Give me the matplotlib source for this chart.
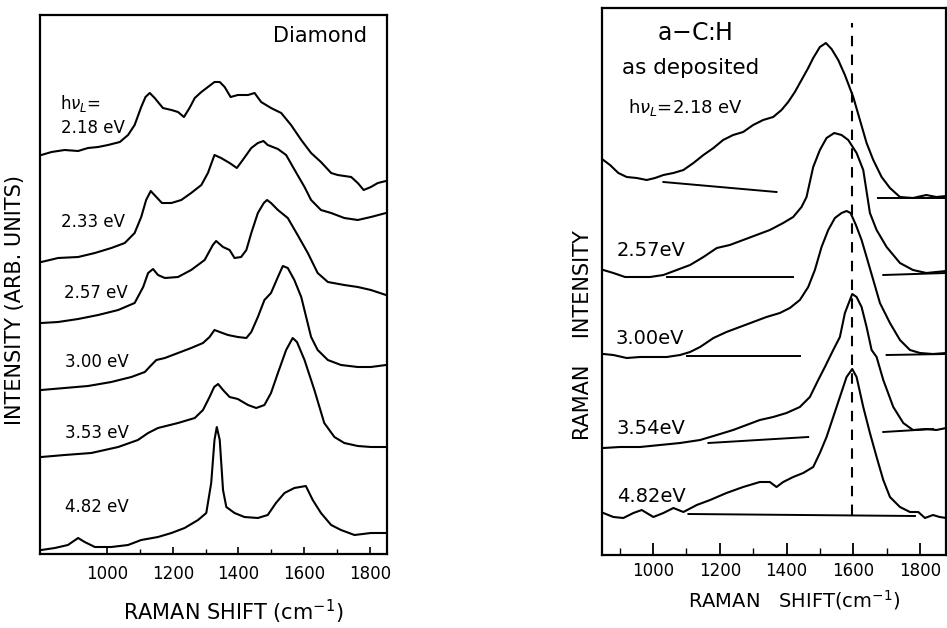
import matplotlib
matplotlib.use("Agg")
import matplotlib.pyplot as plt
from matplotlib.ticker import FixedLocator

# intensities (arb. units, offset traces)

# ---- left panel: diamond ----
d218_x = [800, 831, 871, 912, 942, 973, 1003, 1039, 1064, 1084, 1104, 1117, 1130, 1145, 1170, 1196, 1216, 1234, 1251, 1267, 1287, 1307, 1327, 1343, 1358, 1376, 1398, 1429, 1449, 1469, 1499, 1530, 1560, 1591, 1621, 1651, 1682, 1702, 1743, 1763, 1781, 1803, 1824, 1849]
d218_y = [399, 402, 404, 403, 406, 407, 409, 412, 419, 429, 447, 457, 461, 456, 446, 444, 442, 437, 446, 456, 462, 467, 472, 472, 467, 457, 459, 459, 461, 452, 446, 441, 429, 414, 401, 392, 381, 379, 377, 371, 364, 367, 371, 373]

d233_x = [800, 851, 912, 963, 1013, 1054, 1084, 1104, 1119, 1133, 1150, 1167, 1196, 1226, 1256, 1287, 1307, 1327, 1347, 1373, 1395, 1413, 1439, 1459, 1476, 1489, 1520, 1545, 1571, 1601, 1621, 1651, 1682, 1722, 1763, 1803, 1849]
d233_y = [292, 296, 297, 301, 306, 311, 321, 337, 354, 363, 357, 351, 351, 354, 361, 369, 381, 399, 396, 391, 386, 394, 406, 411, 413, 409, 405, 399, 384, 367, 354, 344, 341, 336, 334, 337, 341]

d257_x = [800, 851, 912, 973, 1034, 1084, 1110, 1125, 1140, 1155, 1176, 1216, 1256, 1297, 1322, 1332, 1353, 1373, 1388, 1408, 1424, 1439, 1459, 1477, 1487, 1499, 1520, 1550, 1580, 1611, 1641, 1672, 1722, 1763, 1803, 1849]
d257_y = [231, 232, 235, 239, 244, 251, 267, 281, 285, 279, 276, 277, 284, 294, 309, 313, 307, 304, 296, 297, 304, 321, 341, 351, 354, 351, 344, 336, 319, 301, 281, 272, 269, 267, 264, 259]

d300_x = [800, 871, 942, 1013, 1074, 1115, 1135, 1150, 1176, 1216, 1256, 1292, 1312, 1327, 1343, 1368, 1398, 1424, 1439, 1459, 1479, 1499, 1520, 1535, 1550, 1570, 1591, 1621, 1641, 1672, 1712, 1763, 1803, 1849]
d300_y = [164, 166, 168, 172, 177, 182, 189, 194, 196, 201, 206, 211, 217, 224, 222, 219, 217, 216, 222, 237, 254, 261, 277, 288, 286, 274, 257, 217, 204, 194, 189, 187, 187, 189]

d353_x = [800, 871, 952, 1034, 1094, 1125, 1155, 1216, 1267, 1292, 1312, 1326, 1338, 1353, 1373, 1398, 1429, 1454, 1479, 1499, 1520, 1545, 1565, 1578, 1601, 1631, 1661, 1692, 1722, 1763, 1803, 1849]
d353_y = [97, 99, 101, 107, 114, 121, 126, 131, 136, 144, 157, 167, 170, 164, 157, 155, 149, 146, 149, 161, 181, 204, 216, 212, 194, 164, 131, 117, 111, 108, 107, 107]

d482_x = [800, 841, 881, 912, 932, 963, 1013, 1064, 1104, 1155, 1196, 1236, 1277, 1302, 1317, 1327, 1334, 1343, 1353, 1363, 1388, 1418, 1459, 1489, 1514, 1540, 1570, 1605, 1626, 1651, 1682, 1712, 1753, 1803, 1849]
d482_y = [4, 6, 9, 16, 12, 7, 7, 9, 14, 17, 21, 26, 34, 41, 71, 114, 127, 114, 64, 47, 41, 37, 36, 39, 51, 61, 66, 68, 54, 41, 29, 24, 19, 21, 21]

# ---- right panel: a-C:H as deposited ----
a218_x = [851, 871, 896, 921, 951, 981, 1006, 1031, 1061, 1091, 1121, 1151, 1181, 1210, 1240, 1270, 1300, 1330, 1360, 1385, 1405, 1425, 1445, 1465, 1480, 1500, 1518, 1535, 1555, 1575, 1600, 1620, 1640, 1660, 1685, 1710, 1740, 1779, 1819, 1849, 1879]
a218_y = [395, 390, 382, 378, 377, 375, 377, 380, 382, 385, 392, 400, 407, 415, 420, 423, 430, 435, 438, 445, 453, 463, 475, 487, 497, 508, 512, 506, 495, 480, 458, 435, 412, 395, 378, 367, 358, 357, 360, 358, 359]

a257_x = [851, 881, 916, 951, 991, 1031, 1071, 1111, 1151, 1191, 1230, 1270, 1310, 1350, 1390, 1420, 1445, 1460, 1480, 1500, 1520, 1543, 1565, 1585, 1610, 1630, 1650, 1670, 1700, 1740, 1779, 1819, 1879]
a257_y = [285, 282, 278, 278, 278, 280, 285, 290, 298, 307, 310, 315, 320, 325, 332, 338, 348, 358, 388, 405, 417, 422, 420, 415, 402, 385, 342, 325, 308, 292, 285, 282, 284]

a300_x = [851, 881, 921, 961, 1001, 1041, 1081, 1111, 1141, 1181, 1220, 1260, 1300, 1340, 1380, 1410, 1440, 1465, 1485, 1505, 1525, 1545, 1565, 1580, 1592, 1608, 1625, 1640, 1660, 1680, 1710, 1740, 1770, 1800, 1839, 1879]
a300_y = [201, 200, 197, 198, 198, 198, 200, 203, 208, 217, 223, 228, 233, 238, 242, 247, 255, 268, 285, 308, 325, 337, 342, 344, 342, 330, 315, 298, 275, 252, 232, 215, 205, 202, 201, 202]

a354_x = [851, 901, 961, 1021, 1081, 1141, 1191, 1240, 1280, 1320, 1360, 1400, 1440, 1470, 1495, 1515, 1540, 1560, 1575, 1597, 1610, 1625, 1640, 1655, 1670, 1690, 1720, 1750, 1779, 1819, 1849, 1879]
a354_y = [107, 108, 108, 110, 112, 115, 120, 125, 130, 135, 138, 142, 148, 158, 175, 188, 205, 218, 242, 261, 258, 248, 228, 205, 198, 175, 148, 132, 125, 126, 125, 127]

a482_x = [851, 881, 911, 941, 966, 1001, 1031, 1061, 1091, 1131, 1171, 1220, 1270, 1320, 1350, 1370, 1390, 1420, 1450, 1480, 1500, 1520, 1540, 1560, 1580, 1597, 1610, 1630, 1650, 1670, 1690, 1710, 1740, 1770, 1795, 1815, 1839, 1859, 1879]
a482_y = [42, 38, 37, 42, 45, 38, 42, 47, 43, 50, 55, 62, 68, 73, 73, 68, 73, 78, 82, 88, 102, 118, 138, 158, 178, 186, 178, 148, 122, 98, 75, 58, 48, 43, 43, 37, 40, 38, 37]

# straight background lines drawn in the figure: (x0, x1, y0, y1)
a_baselines = [
    (1031, 1370, 373, 363), (1675, 1879, 357, 357),
    (1041, 1420, 278, 278), (1690, 1879, 280, 282),
    (1101, 1440, 199, 199), (1700, 1879, 200, 201),
    (1166, 1465, 112, 118), (1690, 1839, 123, 126),
    (1106, 1785, 41, 39),
]
g_band = 1597  # dashed marker position

left_labels = [("2.33 eV", 861, 332), ("2.57 eV", 869, 261), ("3.00 eV", 871, 192),
               ("3.53 eV", 871, 121), ("4.82 eV", 871, 47)]
right_labels = [("2.57eV", 891, 304), ("3.00eV", 886, 216), ("3.54eV", 891, 127), ("4.82eV", 891, 58)]
tick_labels = [1000, 1200, 1400, 1600, 1800]

lw = 1.5
fig = plt.figure(figsize=(9.47, 6.28), dpi=100)

# left panel
ax1 = fig.add_axes([40 / 947, 74 / 628, 347 / 947, 539 / 628])
for xs, ys in [(d218_x, d218_y), (d233_x, d233_y), (d257_x, d257_y),
               (d300_x, d300_y), (d353_x, d353_y), (d482_x, d482_y)]:
    ax1.plot(xs, ys, color="black", lw=lw)
ax1.set_xlim(796, 1852)
ax1.set_ylim(0, 539)
ax1.text(1790, 518, "Diamond", ha="right", va="center", fontsize=15)
ax1.text(856, 451, r"h$\nu_L$=", ha="left", va="center", fontsize=12)
ax1.text(859, 426, "2.18 eV", ha="left", va="center", fontsize=12)
for txt, x, y in left_labels:
    ax1.text(x, y, txt, ha="left", va="center", fontsize=12)
ax1.xaxis.set_major_locator(FixedLocator(tick_labels))
ax1.xaxis.set_minor_locator(FixedLocator([1100, 1300, 1500, 1700]))
ax1.tick_params(axis="x", which="major", direction="in", length=5, width=1.2,
                labelsize=12, pad=8)
ax1.tick_params(axis="x", which="minor", direction="in", length=3.5, width=1.0)

# right panel
ax2 = fig.add_axes([602 / 947, 73 / 628, 344 / 947, 547 / 628])
for xs, ys in [(a218_x, a218_y), (a257_x, a257_y), (a300_x, a300_y),
               (a354_x, a354_y), (a482_x, a482_y)]:
    ax2.plot(xs, ys, color="black", lw=lw)
for x0, x1, y0, y1 in a_baselines:
    ax2.plot([x0, x1], [y0, y1], color="black", lw=1.4)
ax2.plot([g_band, g_band], [40, 532], color="black", lw=1.5, ls=(0, (5, 4)))
ax2.set_xlim(847, 1878)
ax2.set_ylim(0, 547)
ax2.text(1123, 522, "a$-$C:H", ha="center", va="center", fontsize=17)
ax2.text(906, 487, "as deposited", ha="left", va="center", fontsize=15.5)
ax2.text(925, 448, r"h$\nu_L$=2.18 eV", ha="left", va="center", fontsize=13)
for txt, x, y in right_labels:
    ax2.text(x, y, txt, ha="left", va="center", fontsize=14)
ax2.xaxis.set_major_locator(FixedLocator(tick_labels))
ax2.xaxis.set_minor_locator(FixedLocator([900, 1100, 1300, 1500, 1700]))
ax2.tick_params(axis="x", which="major", direction="in", length=9, width=1.3,
                labelsize=12, pad=5)
ax2.tick_params(axis="x", which="minor", direction="in", length=5, width=1.0)

for ax in (ax1, ax2):
    ax.set_yticks([])
    for s in ax.spines.values():
        s.set_linewidth(1.6)

fig.text(15 / 947, 1 - 300 / 628, "INTENSITY (ARB. UNITS)", rotation=90,
         ha="center", va="center", fontsize=15)
fig.text(233 / 947, 1 - 612 / 628, "RAMAN SHIFT (cm$^{-1}$)", ha="center", va="center", fontsize=15)
fig.text(583 / 947, 1 - 335 / 628, "RAMAN    INTENSITY", rotation=90,
         ha="center", va="center", fontsize=15)
fig.text(794 / 947, 1 - 600 / 628, "RAMAN   SHIFT(cm$^{-1}$)", ha="center", va="center", fontsize=14)

fig.savefig("out.png", dpi=100)
